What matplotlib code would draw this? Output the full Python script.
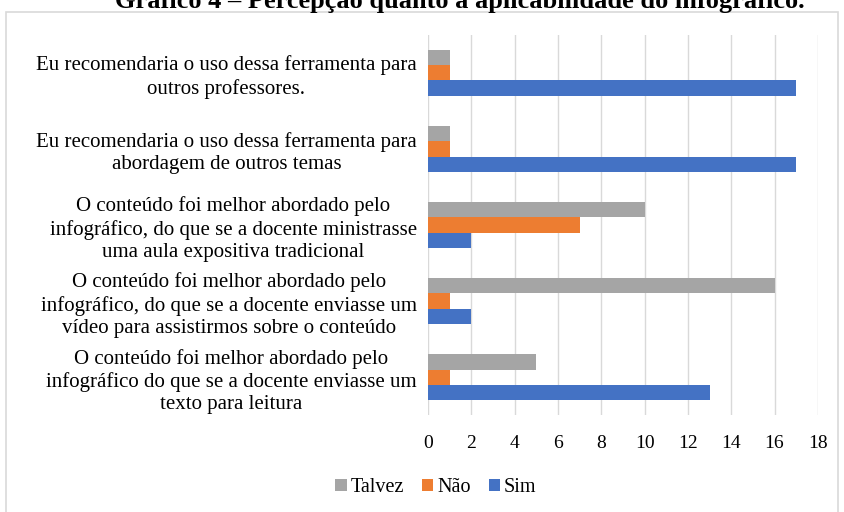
import numpy as np
import matplotlib
matplotlib.use('Agg')
import matplotlib.pyplot as plt
from matplotlib.patches import Rectangle

plt.rcParams['font.family'] = ['Liberation Serif', 'DejaVu Serif']

CATEGORIES = [
    'O conteúdo foi melhor abordado pelo\ninfográfico do que se a docente enviasse um\ntexto para leitura',
    'O conteúdo foi melhor abordado pelo\ninfográfico, do que se a docente enviasse um\nvídeo para assistirmos sobre o conteúdo',
    'O conteúdo foi melhor abordado pelo\ninfográfico, do que se a docente ministrasse\numa aula expositiva tradicional',
    'Eu recomendaria o uso dessa ferramenta para\nabordagem de outros temas',
    'Eu recomendaria o uso dessa ferramenta para\noutros professores.',
]
SIM = [13, 2, 2, 17, 17]
NAO = [1, 1, 7, 1, 1]
TALVEZ = [5, 16, 10, 1, 1]
XTICKS = [0, 2, 4, 6, 8, 10, 12, 14, 16, 18]
TITLE = 'Gráfico 4 – Percepção quanto à aplicabilidade do infográfico.'

C_SIM = '#4472c4'
C_NAO = '#ed7d31'
C_TALVEZ = '#a5a5a5'

fig = plt.figure(figsize=(8.44, 5.12), dpi=100)
ax = fig.add_axes([0.507, 0.189, 0.462, 0.743])

y = np.arange(len(CATEGORIES))
h = 0.2
b_sim = ax.barh(y - h, SIM, height=h, color=C_SIM, label='Sim')
b_nao = ax.barh(y, NAO, height=h, color=C_NAO, label='Não')
b_tal = ax.barh(y + h, TALVEZ, height=h, color=C_TALVEZ, label='Talvez')

ax.set_xlim(0, 18)
ax.set_ylim(-0.5, len(CATEGORIES) - 0.5)
ax.set_xticks(XTICKS)
ax.set_yticks(y)
ax.set_yticklabels(CATEGORIES, multialignment='center', fontsize=15,
                   linespacing=1.22)
ax.tick_params(axis='both', length=0)
ax.tick_params(axis='x', labelsize=14, pad=14)
ax.tick_params(axis='y', pad=8)
ax.xaxis.grid(True, color='#d9d9d9', linewidth=1)
ax.set_axisbelow(True)
for s in ax.spines.values():
    s.set_visible(False)

fig.legend(handles=[b_tal, b_nao, b_sim], loc='center', ncol=3,
           bbox_to_anchor=(436 / 844, 1 - 488 / 512),
           frameon=False, fontsize=14.5, handlelength=0.55, handleheight=0.55,
           handletextpad=0.2, columnspacing=0.9)

fig.patches.append(Rectangle((6 / 844, -0.05), 832 / 844, 1.05 - 12 / 512,
                             transform=fig.transFigure, fill=False,
                             edgecolor='#d9d9d9', linewidth=1.2))
fig.text(460 / 844, 1 - 8 / 512, TITLE, ha='center', va='baseline',
         fontsize=19, fontweight='bold')

fig.savefig('out.png', dpi=100)
